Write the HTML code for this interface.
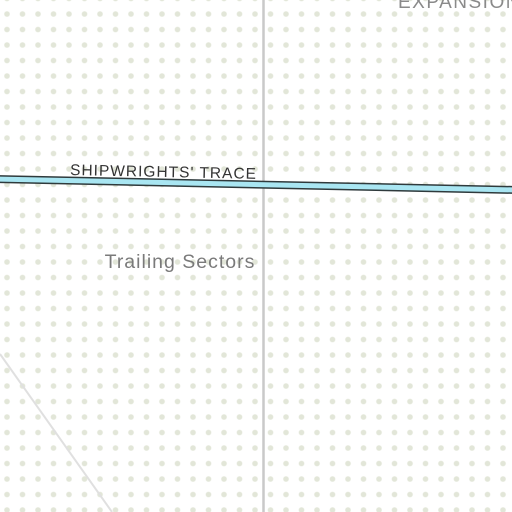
<!DOCTYPE html>
<html><head><style>
html,body{margin:0;padding:0;background:#fff;}
svg{display:block;font-family:"Liberation Sans",sans-serif;}
</style></head><body>
<svg width="512" height="512" viewBox="0 0 512 512">
<defs>
<pattern id="dots" x="-0.75" y="6.25" width="15.5" height="15.5" patternUnits="userSpaceOnUse">
<circle cx="7.75" cy="7.75" r="2.8" fill="#e2e6d8"/>
</pattern>
</defs>
<rect width="512" height="512" fill="#fff"/>
<rect width="512" height="512" fill="url(#dots)"/>
<line x1="0" y1="354" x2="112" y2="512" stroke="#e0e0e0" stroke-width="2"/>
<line x1="263.5" y1="0" x2="263.5" y2="512" stroke="#c9c9c9" stroke-width="2.5"/>
<line x1="-5" y1="179" x2="517" y2="190" stroke="#2f3a3c" stroke-width="8"/>
<line x1="-5" y1="179" x2="517" y2="190" stroke="#a9e6f2" stroke-width="5"/>
<text x="70" y="175" font-size="15.5" fill="#333" transform="rotate(1.2 70 175)" letter-spacing="1">SHIPWRIGHTS' TRACE</text>
<text x="180" y="268" font-size="19.5" fill="#7a7a7a" text-anchor="middle" letter-spacing="1">Trailing Sectors</text>
<text x="398" y="8" font-size="19" fill="#8a8a8a" letter-spacing="1.5">EXPANSION</text>
</svg>
</body></html>
